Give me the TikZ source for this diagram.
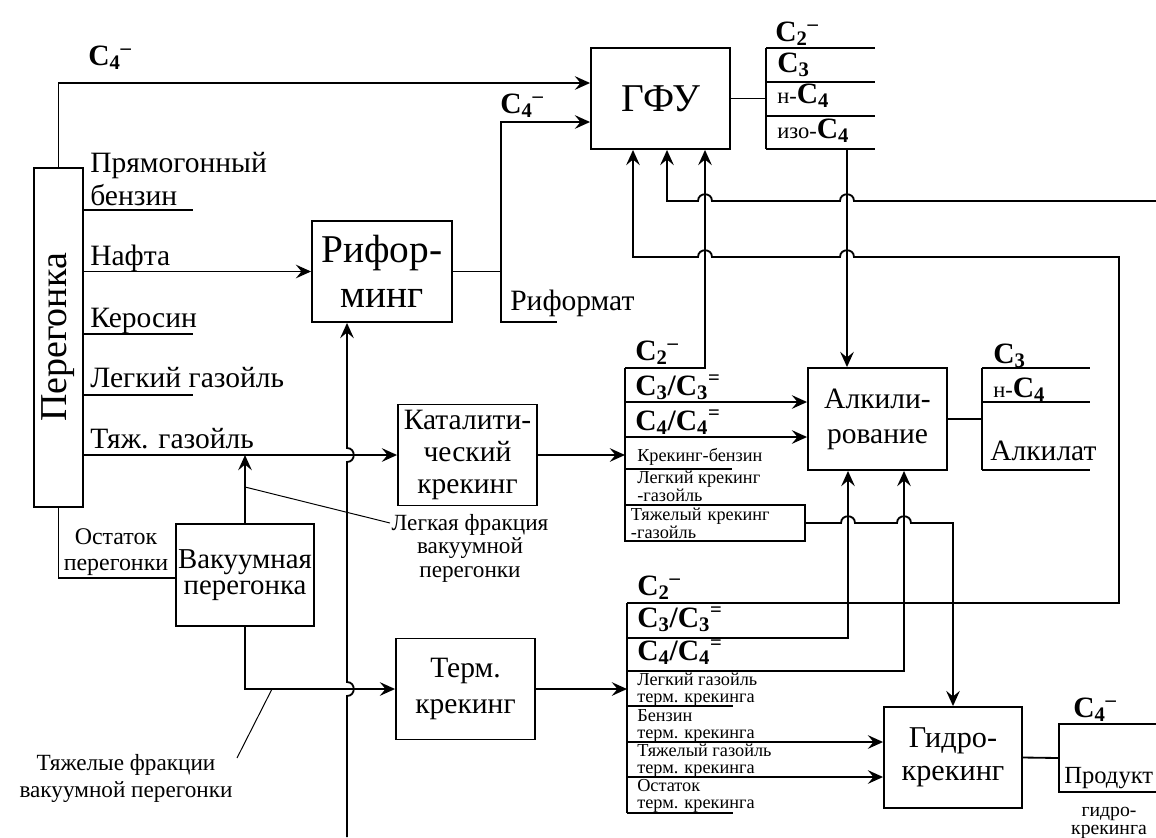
\documentclass[tikz,border=0pt]{standalone}
\usepackage{fontspec}
\setmainfont{Liberation Serif}
\usepackage{graphicx}
\usetikzlibrary{arrows.meta}
\newcommand{\Cs}[1]{C\textsubscript{#1}}
\newcommand{\Cm}[2]{C\textsubscript{#1}\textsuperscript{#2}}
\newcommand{\pre}[1]{{\mdseries\fontsize{16}{16}\selectfont #1}}
% hops of a line over a crossing one
\newcommand{\hopr}[2]{-- (#1-7,#2) .. controls (#1-7,#2-9) and (#1+7,#2-9) .. (#1+7,#2)}
\newcommand{\hopl}[2]{-- (#1+7,#2) .. controls (#1+7,#2-9) and (#1-7,#2-9) .. (#1-7,#2)}
\newcommand{\hopu}[2]{-- (#1,#2+7) .. controls (#1+9,#2+7) and (#1+9,#2-7) .. (#1,#2-7)}
\tikzset{
  unit/.style    = {draw,line width=1.3pt,align=center,inner sep=0pt,font=\fontsize{21}{23}\selectfont},
  pipe/.style    = {line width=1.3pt},
  flow/.style    = {pipe,-{Stealth[length=3.8mm,width=3.4mm,inset=1.4mm]}},
  leader/.style  = {line width=0.7pt},
  sidelbl/.style = {anchor=base west,inner sep=0pt,align=left,font=\fontsize{21}{22.8}\selectfont},
  rowlbl/.style  = {anchor=base west,inner sep=0pt,align=left,font=\fontsize{13}{11.6}\selectfont},
  chem/.style    = {anchor=base west,inner sep=0pt,font=\fontsize{21}{23}\selectfont\bfseries},
  note/.style    = {anchor=base,inner sep=0pt,align=center,font=\fontsize{16.5}{16.7}\selectfont}
}

\begin{document}
\begin{tikzpicture}[x=0.025cm,y=-0.025cm]
  \useasboundingbox (0,0) rectangle (1156,837);
  % units
  \node[unit,minimum width=1.225cm,minimum height=8.475cm,font=\fontsize{27}{30}\selectfont] (dist) at (58.5,337.5) {\rotatebox{90}{Перегонка}};
  \node[unit,minimum width=3.475cm,minimum height=2.525cm,font=\fontsize{28}{30}\selectfont] (gfu) at (660.5,98.5) {ГФУ};
  \node[unit,minimum width=3.5cm,minimum height=2.525cm,font=\fontsize{28}{32}\selectfont] (reform) at (382,271.5) {Рифор-\\минг};
  \node[unit,minimum width=3.475cm,minimum height=2.525cm,font=\fontsize{21}{22.8}\selectfont] (catc) at (467.5,455) {Каталити-\\ческий\\крекинг};
  \node[unit,minimum width=3.45cm,minimum height=2.55cm,font=\fontsize{20.5}{18.5}\selectfont] (vac) at (245,575) {Вакуумная\\перегонка};
  \node[unit,minimum width=3.475cm,minimum height=2.525cm,font=\fontsize{21}{26}\selectfont] (term) at (465.5,689) {Терм.\\крекинг};
  \node[unit,minimum width=3.475cm,minimum height=2.55cm,font=\fontsize{21}{25}\selectfont] (alkyl) at (877.5,419) {Алкили-\\рование};
  \node[unit,minimum width=3.45cm,minimum height=2.525cm,font=\fontsize{21.5}{23.5}\selectfont] (hydro) at (953,757.5) {Гидро-\\крекинг};
  \node[draw,line width=1.3pt,minimum width=4.5cm,minimum height=0.9cm,text width=4.2cm,inner xsep=0.15cm,inner ysep=0pt,align=left,font=\fontsize{13}{11.4}\selectfont] (heavycat) at (715,523) {Тяжелый крекинг\\-газойль};
  \node[draw,line width=1.3pt,minimum width=3.55cm,minimum height=1.7cm] (hprod) at (1130,758) {};

  % distillation cuts
  \node[chem] (c4a) at (88,65) {\Cm{4}{\textendash}};
  \draw[flow] (dist.north) |- (gfu.west |- 0,83);
  \node[sidelbl] (straight) at (90,205) {Прямогонный\\бензин};
  \draw[pipe] (dist.east |- 0,210) -- (193,210);
  \node[sidelbl] (naphtha) at (90,265) {Нафта};
  \draw[flow] (dist.east |- reform.west) -- (reform.west);
  \node[sidelbl] (kero) at (90,327) {Керосин};
  \draw[pipe] (dist.east |- 0,334) -- (193,334);
  \node[sidelbl] (lgo) at (90,387) {Легкий газойль};
  \draw[pipe] (dist.east |- 0,395) -- (193,395);
  \node[sidelbl] (hgo) at (90,448) {Тяж. газойль};
  \draw[flow] (dist.east |- catc.west) -- (catc.west);

  % feed to reforming
  \coordinate (feed) at (347,837);
  \draw[flow] (feed) \hopu{347}{689} \hopu{347}{455} -- (reform.south -| 347,0);

  % vacuum unit
  \node[note,font=\fontsize{17}{17.8}\selectfont] (resid) at (116,570) {Остаток\\перегонки};
  \draw[pipe] (dist.south) |- (vac.west |- 0,578);
  \draw[flow] (vac.north) -- (vac.north |- catc.west);
  \node[note] (lightlbl) at (470,577) {Легкая фракция\\вакуумной\\перегонки};
  \coordinate (lf) at (245,487);
  \coordinate (lfend) at (390,523);
  \draw[leader] (lf) -- (lfend);
  \draw[flow] (vac.south) |- (term.west);
  \node[note,font=\fontsize{16.5}{19.2}\selectfont] (heavylbl) at (126,797) {Тяжелые фракции\\вакуумной перегонки};
  \coordinate (hf) at (272,689);
  \coordinate (hfend) at (237,758);
  \draw[leader] (hf) -- (hfend);

  % reformer products
  \node[chem] (c4b) at (500,113) {\Cm{4}{\textendash}};
  \draw[pipe] (reform.east) -- (reform.east -| 501,0) -- (501,322) -- (557,322);
  \draw[flow] (reform.east -| 501,0) |- (gfu.west |- 0,122);
  \node[sidelbl] (reformate) at (510,310) {Риформат};

  % gas fractionation products
  \draw[pipe] (gfu.east) -- (766,98.5);
  \draw[pipe] (766,48) -- (766,149);
  \foreach \y in {48,82,116,149}
    \draw[pipe] (766,\y) -- (875,\y);
  \node[chem] (gc2) at (775,41) {\Cm{2}{\textendash}};
  \node[chem] (gc3) at (777,72) {\Cs{3}};
  \node[chem] (gnc4) at (777,103) {\pre{н-}\Cs{4}};
  \node[chem] (gic4) at (777,138) {\pre{изо-}\Cs{4}};
  \draw[flow] (847,149) -- (alkyl.north -| 847,0);

  % catalytic cracking products
  \draw[flow] (catc.east) -- (625,455);
  \draw[pipe] (625,368) -- (625,505);
  \draw[flow] (625,368) -| (gfu.south -| 705,0);
  \draw[flow] (625,402) -- (alkyl.west |- 0,402);
  \draw[flow] (625,437) -- (alkyl.west |- 0,437);
  \draw[pipe] (625,469) -- (732,469);
  \node[chem] (cc2) at (635,360) {\Cm{2}{\textendash}};
  \node[chem] (cc3) at (635,395) {\Cs{3}/\Cm{3}{=}};
  \node[chem] (cc4) at (635,430) {\Cs{4}/\Cm{4}{=}};
  \node[rowlbl] (cgas) at (637,461) {Крекинг-бензин};
  \node[rowlbl] (clgo) at (637,501) {Легкий крекинг\\-газойль};
  \draw[flow] (heavycat.east) \hopr{848}{523} \hopr{904}{523} -- (953,523) -- (hydro.north);

  % alkylation products
  \draw[pipe] (alkyl.east) -- (982,419);
  \draw[pipe] (982,368) -- (982,470);
  \foreach \y in {368,402,470}
    \draw[pipe] (982,\y) -- (1090,\y);
  \node[chem] (ac3) at (993,363) {\Cs{3}};
  \node[chem] (anc4) at (993,397) {\pre{н-}\Cs{4}};
  \node[sidelbl] (alkylate) at (990,460) {Алкилат};

  % thermal cracking products
  \draw[flow] (term.east) -- (627,689);
  \draw[pipe] (627,603) -- (627,813);
  \draw[flow] (627,603) -- (1119,603) -- (1119,257) \hopl{847}{257} \hopl{705}{257} -- (633,257) -- (gfu.south -| 633,0);
  \draw[flow] (627,638) -| (alkyl.south -| 848,0);
  \draw[flow] (627,671) -| (alkyl.south -| 904,0);
  \draw[pipe] (627,706) -- (733,706);
  \draw[flow] (627,742) -- (hydro.west |- 0,742);
  \draw[flow] (627,777) -- (hydro.west |- 0,777);
  \draw[pipe] (627,813) -- (733,813);
  \node[chem] (tc2) at (637,595) {\Cm{2}{\textendash}};
  \node[chem] (tc3) at (637,627) {\Cs{3}/\Cm{3}{=}};
  \node[chem] (tc4) at (637,660) {\Cs{4}/\Cm{4}{=}};
  \node[rowlbl] (tlgo) at (637,702) {Легкий газойль\\терм. крекинга};
  \node[rowlbl] (tgas) at (637,738) {Бензин\\терм. крекинга};
  \node[rowlbl] (thgo) at (637,773) {Тяжелый газойль\\терм. крекинга};
  \node[rowlbl] (tres) at (637,808) {Остаток\\терм. крекинга};

  % stream from the right edge
  \coordinate (east) at (1156,201);
  \draw[flow] (east) \hopl{847}{201} \hopl{705}{201} -- (667,201) -- (gfu.south -| 667,0);

  % hydrocracking products
  \draw[pipe] (hydro.east) -- (hprod.west);
  \node[chem] (hc4) at (1073,717) {\Cm{4}{\textendash}};
  \node[rowlbl,font=\fontsize{17.5}{18}\selectfont] (prodlbl) at (1064,783) {Продукт};
  \node[note,font=\fontsize{14}{12.5}\selectfont] (hydrolbl) at (1109,834) {гидро-\\крекинга};
\end{tikzpicture}
\end{document}
